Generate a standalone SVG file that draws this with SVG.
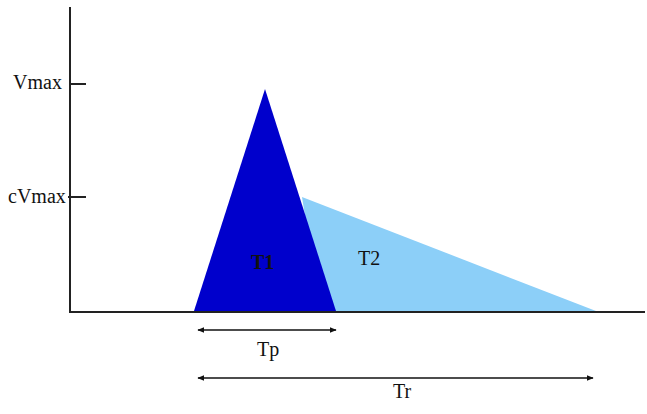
<svg xmlns="http://www.w3.org/2000/svg" width="647" height="414" viewBox="0 0 647 414">
<style>
.ax{stroke:#222;stroke-width:2;fill:none}
.ar{stroke:#111;stroke-width:1.6;fill:none}
text{font-family:"Liberation Serif","Times New Roman",serif;fill:#111;font-size:20px}
</style>
<defs>
<marker id="ah" viewBox="0 0 10 10" refX="9" refY="5" markerWidth="7" markerHeight="7" orient="auto-start-reverse" markerUnits="userSpaceOnUse">
<path d="M0,1 L10,5 L0,9 Z" fill="#111"/>
</marker>
</defs>
<rect width="647" height="414" fill="#fff"/>
<g id="shapes">
<polygon id="T2" points="302,197 596,311 320,311" fill="#8ccff8"/>
<polygon id="T1" points="265,89 336,311 194,311" fill="#0000cc"/>
</g>
<g id="axes">
<line class="ax" x1="70" y1="7" x2="70" y2="312"/>
<line class="ax" x1="69" y1="312" x2="645" y2="312"/>
<line class="ax" x1="70" y1="84" x2="86" y2="84"/>
<line class="ax" x1="68" y1="197" x2="86" y2="197"/>
</g>
<g id="connectors">
<line class="ar" x1="198" y1="330" x2="336" y2="330" marker-start="url(#ah)" marker-end="url(#ah)"/>
<line class="ar" x1="198" y1="378" x2="593" y2="378" marker-start="url(#ah)" marker-end="url(#ah)"/>
</g>
<g id="labels">
<text x="13" y="89">Vmax</text>
<text x="8" y="203">cVmax</text>
<text x="251" y="269" font-weight="bold" fill="#000">T1</text>
<text x="358" y="265">T2</text>
<text x="257" y="356">Tp</text>
<text x="393" y="398">Tr</text>
</g>
</svg>
